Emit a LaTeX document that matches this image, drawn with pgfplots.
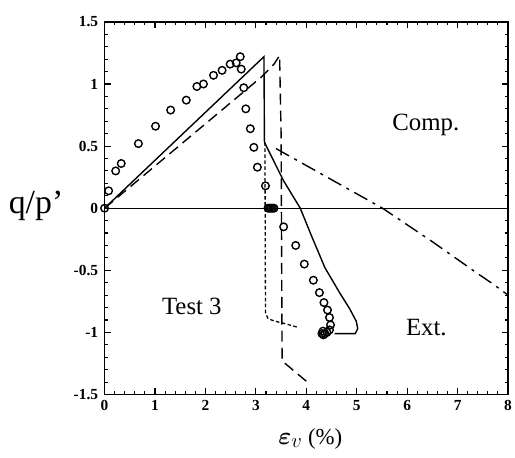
\documentclass[border=0pt]{standalone}
\usepackage{pgfplots}
\pgfplotsset{compat=1.18}
\usepackage{amsmath,bm}
\usepackage{fontspec}
\setmainfont{Liberation Serif}
\newcommand\tl[1]{\mbox{\fontsize{15.5}{15.5}\selectfont\bfseries #1}}

\begin{document}
\begin{tikzpicture}
\path[use as bounding box] (-105bp,-63bp) rectangle (412bp,396bp);
\begin{axis}[
  at={(0,0)}, anchor=south west,
  scale only axis, width=405bp, height=374bp,
  xmin=0, xmax=8, ymin=-1.5, ymax=1.5,
  xtick={0,1,...,8},
  ytick={-1.5,-1,-0.5,0,0.5,1,1.5},
  xticklabels={\tl{0},\tl{1},\tl{2},\tl{3},\tl{4},\tl{5},\tl{6},\tl{7},\tl{8}},
  yticklabels={\tl{-1.5},\tl{-1},\tl{-0.5},\tl{0},\tl{0.5},\tl{1},\tl{1.5}},
  minor x tick num=4, minor y tick num=4,
  tick align=inside,
  major tick length=6bp, minor tick length=3.5bp,
  every tick/.style={black, line width=1.1bp},
  axis line style={line width=1.6bp},
  xticklabel style={yshift=-2bp},
  yticklabel style={xshift=-3bp},
  clip=false,
]
% zero line
\addplot[black, line width=1.1bp] coordinates {(0,0) (8,0)};

% model: solid
\addplot[black, line width=1.4bp] coordinates {
  (0,0) (3.16,1.22) (3.17,0.53) (3.55,0.22) (3.88,0) (4.10,-0.22)
  (4.37,-0.48) (4.66,-0.68) (4.86,-0.81) (4.99,-0.91) (5.02,-0.97)
  (4.97,-1.01) (4.56,-1.01)};

% model: long dashes
\addplot[black, line width=1.4bp, dash pattern=on 11bp off 6bp] coordinates {
  (0,0) (3.12,1.06) (3.36,1.16) (3.47,1.23) (3.50,0.6) (3.52,-1.23) (4.02,-1.40)};

% model: short dashes
\addplot[black, line width=1.3bp, dash pattern=on 3.5bp off 2.5bp] coordinates {
  (3.18,0.53) (3.19,-0.84) (3.24,-0.89) (3.38,-0.91) (3.58,-0.93) (3.84,-0.96)};

% model: dash-dot
\addplot[black, line width=1.4bp, dash pattern=on 15bp off 6bp on 3bp off 6bp] coordinates {
  (3.40,0.48) (5.51,0) (6.50,-0.27) (7.41,-0.53) (7.70,-0.61) (8.0,-0.70)};

% measured
\addplot[only marks, mark=o, mark size=3.8bp, mark options={line width=1.4bp, black}] coordinates {
  (0,0) (0.08,0.14) (0.22,0.30) (0.33,0.36) (0.67,0.52) (1.01,0.66)
  (1.31,0.79) (1.62,0.87) (1.83,0.98) (1.96,1.00) (2.16,1.07) (2.33,1.11)
  (2.49,1.16) (2.61,1.17) (2.69,1.22) (2.71,1.12) (2.76,0.97) (2.80,0.80)
  (2.89,0.64) (2.96,0.49) (3.03,0.33) (3.19,0.18)
  (3.24,0) (3.27,0) (3.30,0) (3.33,0) (3.36,0)
  (3.55,-0.15) (3.79,-0.30) (3.96,-0.45) (4.14,-0.58) (4.26,-0.68)
  (4.35,-0.76) (4.42,-0.82) (4.46,-0.88) (4.48,-0.94) (4.46,-0.98)
  (4.41,-1.00) (4.37,-1.01) (4.34,-1.02) (4.31,-1.01) (4.33,-0.99)};

\node[font=\fontsize{25}{25}\selectfont] at (axis cs:6.37,0.67) {Comp.};
\node[font=\fontsize{25}{25}\selectfont] at (axis cs:1.73,-0.79) {Test 3};
\node[font=\fontsize{25}{25}\selectfont] at (axis cs:6.38,-0.96) {Ext.};

\node[font=\fontsize{34}{34}\selectfont, anchor=base east] at ([xshift=-38bp,yshift=-5bp]axis cs:0,0) {q/p'};
\node[font=\fontsize{23}{23}\selectfont, anchor=base] at ([yshift=-50bp]rel axis cs:0.51,0)
  {{\fontsize{32}{32}\selectfont$\bm{\varepsilon}_{v}$} (\%)};
\end{axis}
\end{tikzpicture}
\end{document}
